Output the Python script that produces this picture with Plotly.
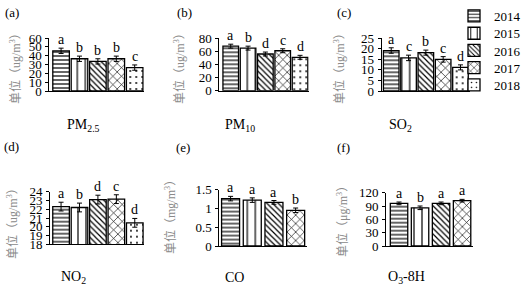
import plotly.graph_objects as go

W, H = 527, 288

years = ["2014", "2015", "2016", "2017", "2018"]

pm25 = [45.5, 36.5, 33.5, 36.5, 26.5]
pm25_err = [3.0, 3.0, 3.0, 3.0, 3.0]
pm25_sig = ["a", "b", "b", "b", "c"]

pm10 = [68, 65, 56, 61, 51]
pm10_err = [3.0, 3.0, 3.0, 3.0, 3.0]
pm10_sig = ["a", "b", "d", "c", "d"]

so2 = [19.2, 15.7, 18.2, 15.0, 11.2]
so2_err = [1.3, 1.3, 1.2, 1.3, 1.2]
so2_sig = ["a", "c", "b", "c", "d"]

no2 = [22.3, 22.2, 23.1, 23.15, 20.45]
no2_err = [0.5, 0.5, 0.5, 0.5, 0.5]
no2_sig = ["a", "b", "d", "c", "d"]

co = [1.26, 1.22, 1.16, 0.95]
co_err = [0.06, 0.06, 0.05, 0.06]
co_sig = ["a", "a", "a", "b"]

o3 = [96, 86, 96, 102]
o3_err = [3.0, 4.0, 3.0, 3.0]
o3_sig = ["a", "b", "a", "a"]

SERIF = "Liberation Serif"
MIX = "Liberation Serif, Noto Sans CJK SC"


def fx(px):
    return px / W


def fy(py):
    return 1 - py / H


patterns = [
    dict(shape="-", size=4, solidity=0.3),
    dict(shape="|", size=8, solidity=0.15),
    dict(shape="\\", size=4, solidity=0.3),
    dict(shape="x", size=6, solidity=0.2),
    dict(shape=".", size=6, solidity=0.08),
]

panels = [
    dict(vals=pm25, err=pm25_err, sig=pm25_sig, xd=(49.3, 143.9), yd=(91, 38), xr=[-0.64, 4.5], yr=[0, 60], dt=10,
         w=0.9, lab="(a)", labpos=(12, 13), title="PM<sub>2.5</sub>", tpos=(83, 125),
         ytitle="单位（ug/m<sup>3</sup>）", ytpos=(16, 66)),
    dict(vals=pm10, err=pm10_err, sig=pm10_sig, xd=(219.3, 308.7), yd=(90.7, 38.3), xr=[-0.66, 4.5], yr=[0, 80], dt=20,
         w=0.9, lab="(b)", labpos=(184, 13), title="PM<sub>10</sub>", tpos=(239.5, 125),
         ytitle="单位（ug/m<sup>3</sup>）", ytpos=(180, 66)),
    dict(vals=so2, err=so2_err, sig=so2_sig, xd=(381.7, 470), yd=(91, 38.3), xr=[-0.55, 4.55], yr=[0, 25], dt=5,
         w=0.9, lab="(c)", labpos=(344, 13), title="SO<sub>2</sub>", tpos=(400, 125),
         ytitle="单位（ug/m<sup>3</sup>）", ytpos=(340, 66)),
    dict(vals=no2, err=no2_err, sig=no2_sig, xd=(50, 144), yd=(244.3, 191.7), xr=[-0.6, 4.5], yr=[18, 24], dt=1,
         w=0.9, lab="(d)", labpos=(11, 146), title="NO<sub>2</sub>", tpos=(73, 277),
         ytitle="单位（ug/m<sup>3</sup>）", ytpos=(12, 221)),
    dict(vals=co, err=co_err, sig=co_sig, xd=(219.3, 306.5), yd=(246, 189.6), xr=[-0.52, 3.5], yr=[0, 1.5], dt=0.5,
         w=0.83, lab="(e)", labpos=(183, 147), title="CO", tpos=(234.5, 277),
         ytitle="单位（mg/m<sup>3</sup>）", ytpos=(170, 214)),
    dict(vals=o3, err=o3_err, sig=o3_sig, xd=(386, 473), yd=(246, 192.7), xr=[-0.62, 3.52], yr=[0, 120], dt=30,
         w=0.83, lab="(f)", labpos=(343, 147), title="O<sub>3</sub>-8H", tpos=(406, 277),
         ytitle="单位（μg/m<sup>3</sup>）", ytpos=(342, 219)),
]

fig = go.Figure()
layout = dict(
    width=W, height=H, margin=dict(l=0, r=0, t=0, b=0, autoexpand=False),
    paper_bgcolor="white", plot_bgcolor="white",
    barmode="overlay",
    font=dict(family=SERIF, size=13, color="black"),
)
annotations = []

legend_rows = [16, 33.3, 50.5, 67.7, 85]

for p, pan in enumerate(panels):
    sfx = "" if p == 0 else str(p + 1)
    for i, v in enumerate(pan["vals"]):
        leg = "legend" if i == 0 else "legend" + str(i + 1)
        fig.add_trace(go.Bar(
            x=[i], y=[v], width=pan["w"],
            name=years[i],
            xaxis="x" + sfx, yaxis="y" + sfx,
            marker=dict(color="white", line=dict(color="black", width=1.3),
                        pattern=dict(fgcolor="black", bgcolor="white", fillmode="replace", **patterns[i])),
            error_y=dict(type="data", array=[pan["err"][i]], thickness=1, width=2.5, color="black"),
            showlegend=(p == 0), legend=leg,
        ))
        annotations.append(dict(
            x=i, y=v + pan["err"][i], xref="x" + sfx, yref="y" + sfx,
            text=pan["sig"][i], showarrow=False, yanchor="bottom", yshift=-1,
            font=dict(family=SERIF, size=14, color="black"),
        ))
    layout["xaxis" + sfx] = dict(
        domain=[fx(pan["xd"][0]), fx(pan["xd"][1])], range=pan["xr"],
        anchor="y" + sfx, showgrid=False, zeroline=False, showticklabels=False,
        showline=True, linecolor="black", linewidth=1, ticks="", fixedrange=True,
    )
    layout["yaxis" + sfx] = dict(
        domain=[fy(pan["yd"][0]), fy(pan["yd"][1])], range=pan["yr"], dtick=pan["dt"], tick0=0,
        anchor="x" + sfx, showgrid=False, zeroline=False,
        showline=True, linecolor="black", linewidth=1, ticks="outside", ticklen=3, tickcolor="black",
        tickfont=dict(family=SERIF, size=13, color="black"), ticklabelstandoff=1,
    )
    annotations.append(dict(x=fx(pan["labpos"][0]), y=fy(pan["labpos"][1]), xref="paper", yref="paper",
                            text=pan["lab"], showarrow=False, xanchor="center", yanchor="middle",
                            font=dict(family=SERIF, size=13, color="black")))
    annotations.append(dict(x=fx(pan["tpos"][0]), y=fy(pan["tpos"][1]), xref="paper", yref="paper",
                            text=pan["title"], showarrow=False, xanchor="center", yanchor="middle",
                            font=dict(family=SERIF, size=14, color="black")))
    annotations.append(dict(x=fx(pan["ytpos"][0]), y=fy(pan["ytpos"][1]), xref="paper", yref="paper",
                            text=pan["ytitle"], showarrow=False, xanchor="center", yanchor="middle",
                            textangle=-90, font=dict(family=MIX, size=12, color="#8a8a8a")))

for i, yy in enumerate(legend_rows):
    key = "legend" if i == 0 else "legend" + str(i + 1)
    layout[key] = dict(x=fx(454), y=fy(yy), xanchor="left", yanchor="middle",
                       bgcolor="rgba(0,0,0,0)", borderwidth=0, itemwidth=30,
                       font=dict(family=SERIF, size=13, color="black"))

layout["annotations"] = annotations
fig.update_layout(**layout)
fig.write_html("out.html", config={"displayModeBar": False},
               post_script="document.body.style.margin='0';document.body.style.overflow='hidden';")
